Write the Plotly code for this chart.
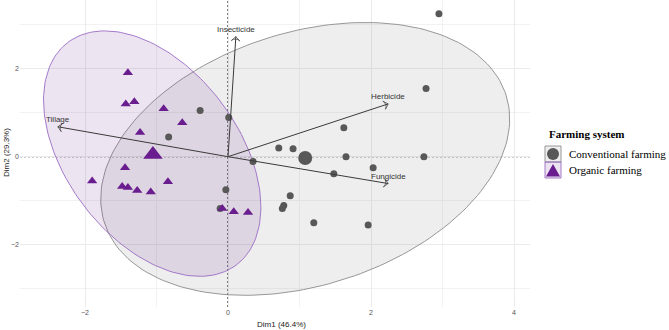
import numpy as np
import plotly.graph_objects as go

# ---- data ----
conv_x = [-0.39, 0.01, -0.83, 2.95, 2.77, 1.62, 0.71, 0.91, 1.65, 2.74,
          0.35, 2.03, 1.48, -0.03, 0.87, 0.78, 0.76, 1.20, 1.96, -0.11]
conv_y = [1.05, 0.89, 0.45, 3.25, 1.55, 0.66, 0.20, 0.18, 0.00, 0.00,
          -0.11, -0.25, -0.39, -0.75, -0.89, -1.11, -1.18, -1.50, -1.55, -1.18]
org_x = [-1.40, -1.43, -1.31, -0.90, -0.64, -1.23, -1.44, -1.90, -1.48, -1.40,
         -1.27, -1.08, -0.84, -0.08, 0.08, 0.28]
org_y = [1.91, 1.20, 1.25, 1.09, 0.77, 0.55, -0.25, -0.55, -0.68, -0.70,
         -0.77, -0.80, -0.57, -1.18, -1.25, -1.27]
group_names = ["Conventional farming", "Organic farming"]
mean_x = [1.08, -1.05]
mean_y = [-0.03, 0.05]
# ellipse: centre and covariance-like shape matrix
ell_center = [(1.08, -0.05), (-1.06, 0.07)]
ell_shape = [[[8.18, 2.60], [2.60, 9.61]], [[2.31, -1.85], [-1.85, 7.78]]]

var_names = ["Insecticide", "Herbicide", "Fungicide", "Tillage"]
var_x = [0.11, 2.24, 2.24, -2.38]
var_y = [2.73, 1.20, -0.61, 0.68]

x_title = "Dim1 (46.4%)"
y_title = "Dim2 (29.3%)"
legend_title = "Farming system"

# ---- styles / layout ----
W, H = 669, 330
PANEL_L, PANEL_R, PANEL_T, PANEL_B = 20, 530, 0, 307   # page pixels
ML, MR = PANEL_L, W - PANEL_R
MT, MB = PANEL_T, H - PANEL_B
pt_colors = ["#585858", "#6a1d8e"]
ell_lines = ["#8c8c8c", "#9a6cc4"]
ell_fills = ["rgba(88,88,88,0.10)", "rgba(106,29,142,0.12)"]
symbols = ["circle", "triangle-up"]
pt_sizes = [7, 9]
mean_sizes = [14, 17]


def px(x):
    return (x - PANEL_L) / (PANEL_R - PANEL_L)


def py(y):
    return (PANEL_B - y) / (PANEL_B - PANEL_T)


fig = go.Figure()

t = np.linspace(0, 2 * np.pi, 200)
for c, S, lc, fc in zip(ell_center, ell_shape, ell_lines, ell_fills):
    vals, vecs = np.linalg.eigh(np.array(S))
    pts = vecs @ np.diag(np.sqrt(vals)) @ np.vstack([np.cos(t), np.sin(t)])
    fig.add_trace(go.Scatter(x=pts[0] + c[0], y=pts[1] + c[1], mode="lines",
                             fill="toself", fillcolor=fc,
                             line=dict(color=lc, width=0.9),
                             showlegend=False, hoverinfo="skip"))

groups = [(conv_x, conv_y), (org_x, org_y)]
for i, (gx, gy) in enumerate(groups):
    fig.add_trace(go.Scatter(x=gx, y=gy, mode="markers", showlegend=False,
                             name=group_names[i],
                             marker=dict(symbol=symbols[i], size=pt_sizes[i],
                                         color=pt_colors[i], line=dict(width=0))))
    fig.add_trace(go.Scatter(x=[mean_x[i]], y=[mean_y[i]], mode="markers",
                             name=group_names[i], showlegend=False,
                             marker=dict(symbol=symbols[i], size=mean_sizes[i],
                                         color=pt_colors[i], line=dict(width=0))))

for name, vx, vy in zip(var_names, var_x, var_y):
    fig.add_trace(go.Scatter(x=[0, vx], y=[0, vy], mode="lines+markers",
                             showlegend=False, hoverinfo="skip",
                             line=dict(color="#3a3a3a", width=1),
                             marker=dict(symbol=["circle", "arrow-wide-open"],
                                         size=[0, 6], angleref="previous",
                                         color="#3a3a3a",
                                         line=dict(color="#3a3a3a", width=1))))
    fig.add_annotation(x=vx, y=vy, text=name, showarrow=False, yshift=7,
                       font=dict(size=8, color="#333333", family="Liberation Sans"))

# dashed origin lines
fig.add_shape(type="line", xref="x", yref="paper", x0=0, x1=0, y0=0, y1=1,
              line=dict(color="black", width=1, dash="2px,2px"), layer="below")
fig.add_shape(type="line", xref="paper", yref="y", x0=0, x1=1, y0=0, y1=0,
              line=dict(color="black", width=1, dash="2px,2px"), layer="below")

# axis titles
fig.add_annotation(text=x_title, xref="paper", yref="paper", x=px(281), y=py(324),
                   showarrow=False, yanchor="middle", xanchor="center",
                   font=dict(size=8, color="#222222", family="Liberation Sans"))
fig.add_annotation(text=y_title, xref="paper", yref="paper", x=px(6), y=py(153),
                   showarrow=False, textangle=-90, xanchor="center", yanchor="middle",
                   font=dict(size=8, color="#222222", family="Liberation Sans"))

# ---- manual legend (ggplot style keys) ----
fig.add_annotation(text="<b>" + legend_title + "</b>", xref="paper", yref="paper",
                   x=px(547), y=py(134), xanchor="left", yanchor="middle", showarrow=False,
                   font=dict(size=11, family="Liberation Serif", color="black"))
key_top = [146, 162]
for i in range(2):
    y0, y1 = key_top[i], key_top[i] + 16
    fig.add_shape(type="rect", xref="paper", yref="paper",
                  x0=px(545), x1=px(561), y0=py(y1), y1=py(y0),
                  fillcolor=ell_fills[i], line=dict(color=ell_lines[i], width=0.9))
    fig.add_annotation(text=group_names[i], xref="paper", yref="paper",
                       x=px(567), y=py((y0 + y1) / 2), xanchor="left", yanchor="middle",
                       showarrow=False,
                       font=dict(size=11, family="Liberation Serif", color="black"))
# circle key
fig.add_shape(type="circle", xref="paper", yref="paper",
              x0=px(547), x1=px(559), y0=py(160), y1=py(148),
              fillcolor=pt_colors[0], line=dict(width=0))
# triangle key
fig.add_shape(type="path", xref="paper", yref="paper",
              path="M %f,%f L %f,%f L %f,%f Z" % (px(553), py(164), px(546), py(176.5),
                                                    px(560), py(176.5)),
              fillcolor=pt_colors[1], line=dict(width=0))

# axis ranges from the panel's pixel extent (0 at page x=228 / y=156.7)
x_per_px, y_per_px = 1 / 71.5, 1 / 44.0
x_range = [(PANEL_L - 228) * x_per_px, (PANEL_R - 228) * x_per_px]
y_range = [(156.7 - PANEL_B) * y_per_px, (156.7 - PANEL_T) * y_per_px]

axis_common = dict(showline=False, zeroline=False, ticks="", showgrid=True,
                   gridcolor="#ebebeb", gridwidth=1,
                   tickfont=dict(size=7, color="#555555", family="Liberation Sans"),
                   minor=dict(dtick=1, showgrid=True, gridcolor="#f2f2f2", gridwidth=0.6))
fig.update_xaxes(range=x_range, dtick=2, tick0=0, automargin=False, **axis_common)
fig.update_yaxes(range=y_range, dtick=2, tick0=0, automargin=False, **axis_common)

fig.update_layout(
    width=W, height=H,
    margin=dict(l=ML, r=MR, t=MT, b=MB),
    paper_bgcolor="white", plot_bgcolor="white",
    showlegend=False,
)

# remove the browser's default 8px body margin so the figure sits at the page origin
fig.write_html("out.html", config={"displayModeBar": False},
               post_script="document.body.style.margin='0';")
